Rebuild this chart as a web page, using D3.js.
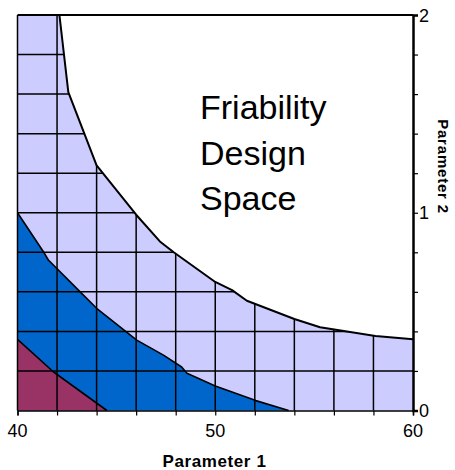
<!DOCTYPE html>
<html>
<head>
<meta charset="utf-8">
<script src="https://cdn.jsdelivr.net/npm/d3@7/dist/d3.min.js"></script>
<style>
  html, body { margin: 0; padding: 0; background: #fff; }
  svg { display: block; font-family: "Liberation Sans", Arial, sans-serif; }
</style>
</head>
<body>
<svg id="chart" width="455" height="470"></svg>
<script>
// ---- Data ----
const xTicks = [40, 42, 44, 46, 48, 50, 52, 54, 56, 58, 60];
const xTickLabels = [40, 50, 60];
const yTicks = [0, 0.2, 0.4, 0.6, 0.8, 1.0, 1.2, 1.4, 1.6, 1.8, 2.0];
const yTickLabels = [0, 1, 2];

// boundary of the outer (lavender) region: [parameter1, parameter2]
const outerEdge = [[42.12, 2], [42.57, 1.61], [44.0, 1.24], [46.0, 0.99], [47.2, 0.855],
  [47.9, 0.80], [50.0, 0.65], [50.85, 0.609], [51.6, 0.555], [54.0, 0.463],
  [55.3, 0.421], [58.1, 0.377], [60, 0.36]];
// boundary of the middle (blue) region
const middleEdge = [[40, 1.0], [41.31, 0.803], [41.56, 0.761], [43.08, 0.609], [44.0, 0.517],
  [46.03, 0.356], [47.38, 0.28], [48.3, 0.22], [48.57, 0.188], [50, 0.124],
  [52.05, 0.05], [53.71, 0]];
// boundary of the inner (maroon) region
const innerEdge = [[40, 0.36], [41.81, 0.196], [44.52, 0]];

const titleLines = ["Friability", "Design", "Space"];

// ---- Layout ----
const svg = d3.select("#chart");
const x = d3.scaleLinear().domain([40, 60]).range([17.5, 413]);
const y = d3.scaleLinear().domain([0, 2]).range([410.5, 15]);
const line = d3.line().x(d => x(d[0])).y(d => y(d[1]));

const outerPoly = [[40, 0], [40, 2], ...outerEdge, [60, 0]];
const middlePoly = [[40, 0], ...middleEdge];
const innerPoly = [[40, 0], ...innerEdge];

svg.append("defs").append("clipPath").attr("id", "clipOuter")
  .append("path").attr("d", line(outerPoly) + "Z");

svg.append("path").attr("d", line(outerPoly) + "Z").attr("fill", "#CCCCFF");
svg.append("path").attr("d", line(middlePoly) + "Z").attr("fill", "#0066CC");
svg.append("path").attr("d", line(innerPoly) + "Z").attr("fill", "#993366");

// grid clipped to the coloured region
const grid = svg.append("g").attr("clip-path", "url(#clipOuter)")
  .attr("stroke", "#000").attr("stroke-width", 1.5);
grid.selectAll("line.v").data(xTicks.slice(1, -1)).join("line")
  .attr("x1", d => x(d)).attr("x2", d => x(d)).attr("y1", y(0)).attr("y2", y(2));
grid.selectAll("line.h").data(yTicks.slice(1, -1)).join("line")
  .attr("x1", x(40)).attr("x2", x(60)).attr("y1", d => y(d)).attr("y2", d => y(d));

// boundaries
[outerEdge, middleEdge, innerEdge].forEach((e, i) => {
  svg.append("path").attr("d", line(e)).attr("fill", "none")
    .attr("stroke", "#000").attr("stroke-width", i === 0 ? 2 : 1.6)
    .attr("stroke-linejoin", "round");
});

// frame: top and left
svg.append("line").attr("x1", x(40)).attr("x2", x(60)).attr("y1", y(2)).attr("y2", y(2))
  .attr("stroke", "#000").attr("stroke-width", 2);
svg.append("line").attr("x1", x(40)).attr("x2", x(40)).attr("y1", y(0)).attr("y2", y(2))
  .attr("stroke", "#000").attr("stroke-width", 1.5);

// bottom axis
const xAxis = d3.axisBottom(x).tickValues(xTicks).tickSize(5).tickFormat("");
const gx = svg.append("g").attr("transform", `translate(0,${y(0)})`).call(xAxis);
gx.select(".domain").attr("stroke-width", 1.5);
gx.selectAll(".tick line").attr("stroke-width", 1.2);
svg.selectAll("text.xl").data(xTickLabels).join("text")
  .attr("x", d => x(d)).attr("y", 437).attr("text-anchor", "middle")
  .attr("font-size", 18).text(d => d);

// right axis
const yAxis = d3.axisRight(y).tickValues(yTicks).tickSize(5).tickFormat("");
const gy = svg.append("g").attr("transform", `translate(${x(60)},0)`).call(yAxis);
gy.select(".domain").attr("stroke-width", 2.5);
gy.selectAll(".tick line").attr("stroke-width", 1.2);
svg.selectAll("text.yl").data(yTickLabels).join("text")
  .attr("x", 419).attr("y", d => y(d) + 6.5).attr("text-anchor", "start")
  .attr("font-size", 18).text(d => d);

// axis titles
svg.append("text").attr("x", 214.5).attr("y", 466.5).attr("text-anchor", "middle")
  .attr("font-size", 17).attr("font-weight", "bold").attr("letter-spacing", 0.6)
  .text("Parameter 1");
svg.append("text").attr("transform", "translate(438,166.5) rotate(90)")
  .attr("text-anchor", "middle").attr("font-size", 15).attr("font-weight", "bold")
  .attr("letter-spacing", 0.8).text("Parameter 2");

// annotation
svg.selectAll("text.title").data(titleLines).join("text")
  .attr("x", 200).attr("y", (d, i) => 119.3 + i * 45.5)
  .attr("font-size", 34).attr("fill", "#000").text(d => d);
</script>
</body>
</html>
